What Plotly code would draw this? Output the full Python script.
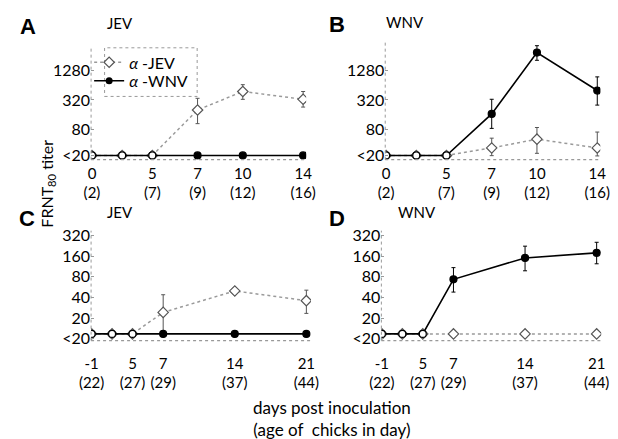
import plotly.graph_objects as go

# ---------------- data ----------------
# x positions of the sampling days as laid out on each axis
x_ab = [0, 2, 4, 7, 10, 14]
x_cd = [-1, 1, 3, 6, 13, 20]
xtick_ab_pos = [0, 4, 7, 10, 14]
xtick_ab_day = ["0", "5", "7", "10", "14"]
xtick_ab_age = ["(2)", "(7)", "(9)", "(12)", "(16)"]
xtick_cd_pos = [-1, 3, 6, 13, 20]
xtick_cd_day = ["-1", "5", "7", "14", "21"]
xtick_cd_age = ["(22)", "(27)", "(29)", "(37)", "(44)"]

# Panel A (JEV challenge, top row); "<20" plotted at 23.5
a_jev = [23.5, 23.5, 23.5, 200, 477, 330]
a_jev_hi = [23.5, 23.5, 23.5, 346, 657, 477]
a_jev_lo = [23.5, 23.5, 23.5, 105, 330, 229]
a_wnv = [23.5, 23.5, 23.5, 23.5, 23.5, 23.5]

# Panel B (WNV challenge, top row)
b_jev = [23.5, 23.5, 23.5, 33.5, 50.6, 33.5]
b_jev_hi = [23.5, 23.5, 23.5, 53, 87.5, 70.7]
b_jev_lo = [23.5, 23.5, 23.5, 23.3, 26, 23]
b_wnv = [23.5, 23.5, 23.5, 166, 2970, 498]
b_wnv_hi = [23.5, 23.5, 23.5, 330, 4100, 946]
b_wnv_lo = [23.5, 23.5, 23.5, 84, 2065, 251]

# Panel C (JEV challenge, bottom row); "<20" plotted at 11.8
c_jev = [11.8, 11.8, 11.8, 24.3, 49.9, 36]
c_jev_hi = [11.8, 11.8, 11.8, 43.9, 49.9, 51.2]
c_jev_lo = [11.8, 11.8, 11.8, 11.8, 49.9, 23.5]
c_wnv = [11.8, 11.8, 11.8, 11.8, 11.8, 11.8]

# Panel D (WNV challenge, bottom row)
d_jev = [11.8, 11.8, 11.8, 11.8, 11.8, 11.8]
d_wnv = [11.8, 11.8, 11.8, 73.6, 151, 179]
d_wnv_hi = [11.8, 11.8, 11.8, 109, 224, 255]
d_wnv_lo = [11.8, 11.8, 11.8, 48, 98, 124]

ytick_ab_vals = [24, 80, 320, 1280, 5120]
ytick_ab_text = ["<20", "80", "320", "1280", "5120"]
ytick_a_vals = [24, 80, 320, 1280]
ytick_a_text = ["<20", "80", "320", "1280"]
ytick_cd_vals = [10, 20, 40, 80, 160, 320]
ytick_cd_text = ["<20", "20", "40", "80", "160", "320"]

# ---------------- styles ----------------
FONT = "Lato"
JEV_LINE = "#9a9a9a"
JEV_EDGE = "#555555"
WNV_COL = "black"


def errs(y, hi, lo):
    return ([h - v for h, v in zip(hi, y)], [v - l for v, l in zip(y, lo)])


fig = go.Figure()

JEV_LINE_STYLE = dict(color=JEV_LINE, width=1.5, dash="dot")
JEV_MARKER = dict(symbol="diamond", size=8, color="white",
                  line=dict(color=JEV_EDGE, width=1.2))
WNV_LINE_STYLE = dict(color=WNV_COL, width=1.6)


def add_panel(xs, jev, wnv, xa, ya, jev_hl=None, wnv_hl=None):
    ej = dict(visible=False)
    if jev_hl is not None:
        up, dn = errs(jev, *jev_hl)
        ej = dict(type="data", array=up, arrayminus=dn, color=JEV_EDGE,
                  thickness=1, width=2)
    fig.add_trace(go.Scatter(
        x=xs, y=jev, xaxis=xa, yaxis=ya, mode="lines+markers",
        showlegend=False, line=JEV_LINE_STYLE, marker=JEV_MARKER, error_y=ej))
    ew = dict(visible=False)
    if wnv_hl is not None:
        up, dn = errs(wnv, *wnv_hl)
        ew = dict(type="data", array=up, arrayminus=dn, color=WNV_COL,
                  thickness=1, width=2)
    fig.add_trace(go.Scatter(
        x=xs, y=wnv, xaxis=xa, yaxis=ya, mode="lines+markers",
        showlegend=False, line=WNV_LINE_STYLE,
        marker=dict(symbol="circle", size=7,
                    color=["white", "white", "white", "black", "black", "black"],
                    line=dict(color="black", width=1.2)),
        error_y=ew))


add_panel(x_ab, a_jev, a_wnv, "x", "y", jev_hl=(a_jev_hi, a_jev_lo))
add_panel(x_ab, b_jev, b_wnv, "x2", "y2", jev_hl=(b_jev_hi, b_jev_lo),
          wnv_hl=(b_wnv_hi, b_wnv_lo))
add_panel(x_cd, c_jev, c_wnv, "x3", "y3", jev_hl=(c_jev_hi, c_jev_lo))
add_panel(x_cd, d_jev, d_wnv, "x4", "y4", wnv_hl=(d_wnv_hi, d_wnv_lo))

# legend entries (one legend box per entry for tight spacing)
fig.add_trace(go.Scatter(x=[None], y=[None], mode="lines+markers", name="<i>α</i> -JEV",
                         line=JEV_LINE_STYLE, marker=JEV_MARKER, legend="legend"))
fig.add_trace(go.Scatter(x=[None], y=[None], mode="lines+markers", name="<i>α</i> -WNV",
                         line=WNV_LINE_STYLE,
                         marker=dict(symbol="circle", size=7, color="black"),
                         legend="legend2"))

W, H = 618, 439


def px(xp):
    return xp / W


def py(yp):
    return 1 - yp / H


tickfont = dict(family=FONT, size=16, color="black")
xtickfont = dict(family=FONT, size=15, color="black")


def xaxis_cfg(dom, rng, pos, day, age, anchor, standoff):
    return dict(domain=dom, range=rng, anchor=anchor, tickmode="array",
                tickvals=pos,
                ticktext=[f"{d}<br>{a}" for d, a in zip(day, age)],
                showgrid=False, zeroline=False, showline=False, ticks="",
                ticklabelstandoff=standoff, tickfont=xtickfont)


def yaxis_cfg(dom, rng, vals, text, anchor):
    return dict(domain=dom, range=rng, anchor=anchor, type="log",
                tickmode="array", tickvals=vals, ticktext=text,
                showgrid=False, zeroline=False, showline=False,
                ticks="inside", ticklen=3, tickcolor="#999999",
                tickfont=tickfont)


leg_common = dict(xanchor="left", yanchor="middle", bgcolor="rgba(0,0,0,0)",
                  font=dict(family=FONT, size=16, color="black"),
                  itemwidth=30, borderwidth=0)

rng_ab = [-0.06, 14.2]
rng_cd = [-1.05, 20.45]
fig.update_layout(
    width=W, height=H, margin=dict(l=0, r=0, t=0, b=0),
    paper_bgcolor="white", plot_bgcolor="white",
    xaxis=xaxis_cfg([px(82), px(305)], rng_ab, xtick_ab_pos, xtick_ab_day, xtick_ab_age, "y", 3),
    xaxis2=xaxis_cfg([px(387), px(610)], rng_ab, xtick_ab_pos, xtick_ab_day, xtick_ab_age, "y2", 3),
    xaxis3=xaxis_cfg([px(82), px(310)], rng_cd, xtick_cd_pos, xtick_cd_day, xtick_cd_age, "y3", 12),
    xaxis4=xaxis_cfg([px(383), px(611)], rng_cd, xtick_cd_pos, xtick_cd_day, xtick_cd_age, "y4", 12),
    yaxis=yaxis_cfg([py(159), py(43)], [1.2856, 3.591], ytick_a_vals, ytick_a_text, "x"),
    yaxis2=yaxis_cfg([py(159), py(37)], [1.2856, 3.709], ytick_ab_vals, ytick_ab_text, "x2"),
    yaxis3=yaxis_cfg([py(345), py(232)], [0.975, 2.576], ytick_cd_vals, ytick_cd_text, "x3"),
    yaxis4=yaxis_cfg([py(345), py(232)], [0.975, 2.576], ytick_cd_vals, ytick_cd_text, "x4"),
    legend=dict(x=px(80), y=py(59), **leg_common),
    legend2=dict(x=px(80), y=py(78), **leg_common),
    showlegend=True,
)

# dotted axis lines
shapes = []
for xa, ya in [("x", "y"), ("x2", "y2"), ("x3", "y3"), ("x4", "y4")]:
    shapes.append(dict(type="line", xref=f"{xa} domain", yref=f"{ya} domain",
                       x0=0, x1=0, y0=0, y1=1,
                       line=dict(color="#999999", width=1, dash="dot")))
    shapes.append(dict(type="line", xref=f"{xa} domain", yref=f"{ya} domain",
                       x0=0, x1=1, y0=0, y1=0,
                       line=dict(color="#999999", width=1.2, dash="dot")))
# legend frame
shapes.append(dict(type="rect", xref="paper", yref="paper",
                   x0=px(96), x1=px(192), y0=py(94), y1=py(44),
                   line=dict(color="#999999", width=1, dash="dot")))
fig.update_layout(shapes=shapes)

ann = []
for letter, x, y in [("A", 17, 22), ("B", 337, 20), ("C", 16, 219), ("D", 337, 219)]:
    ann.append(dict(text=f"<b>{letter}</b>", x=px(x), y=py(y), xref="paper", yref="paper",
                    showarrow=False, xanchor="center", yanchor="middle",
                    font=dict(family="Liberation Sans", size=22, color="black")))
for t, x, y in [("JEV", 112, 18), ("WNV", 408, 17), ("JEV", 112, 213), ("WNV", 420, 213)]:
    ann.append(dict(text=t, x=px(x), y=py(y), xref="paper", yref="paper",
                    showarrow=False, xanchor="center", yanchor="middle",
                    font=dict(family=FONT, size=15, color="black")))
ann.append(dict(text="FRNT<sub>80</sub> titer", x=px(37), y=py(184), xref="paper", yref="paper",
                showarrow=False, textangle=-90, xanchor="center", yanchor="middle",
                font=dict(family=FONT, size=16, color="black")))
ann.append(dict(text="days post inoculation<br>(age of  chicks in day)", x=px(332), y=py(425),
                xref="paper", yref="paper", showarrow=False, xanchor="center", yanchor="middle",
                font=dict(family=FONT, size=17, color="black")))
fig.update_layout(annotations=ann)

fig.write_html("out.html")
